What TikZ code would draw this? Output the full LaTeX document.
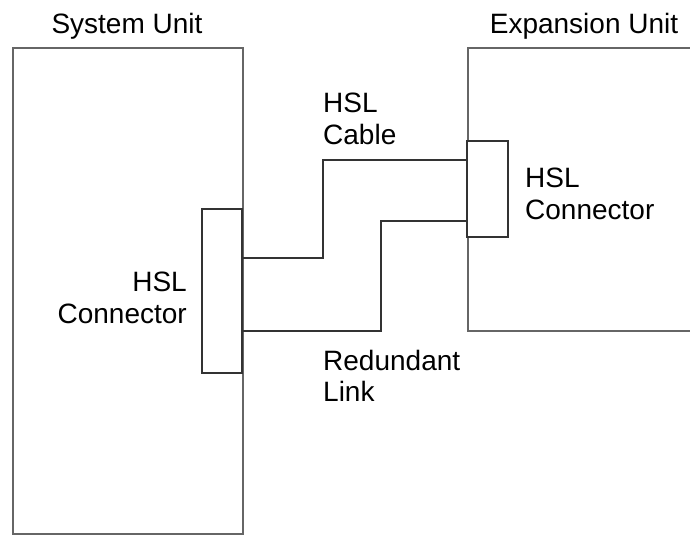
\documentclass[tikz,border=0pt]{standalone}
\usepackage{fontspec}
\setmainfont{Liberation Sans}
\begin{document}
\begin{tikzpicture}[x=1pt,y=-1pt,
  unitbox/.style={draw=black!60,line width=2pt},
  connbox/.style={draw=black!80,line width=1.4pt,rectangle,inner sep=0pt},
  cable/.style={draw=black!80,line width=1.4pt},
  lbl/.style={inner sep=0pt,font=\fontsize{28}{31.5}\selectfont}]
\useasboundingbox (0,0) rectangle (690,536);
% units
\node[unitbox,rectangle,inner sep=0pt,minimum width=230pt,minimum height=486pt] (sysunit) at (127.75,291) {};
\draw[unitbox] (700,48) -- (468,48) -- (468,331) -- (700,331);
\coordinate (expunit) at (468,48);
% titles
\node[lbl,anchor=base] (systitle) at (127,33) {System Unit};
\node[lbl,anchor=base] (exptitle) at (584,33) {Expansion Unit};
% connectors
\node[connbox,fill=white,minimum width=40pt,minimum height=164pt] (sysconn) at (222,291) {};
\node[connbox,fill=white,minimum width=41pt,minimum height=96pt] (expconn) at (487.5,189) {};
% cables
\coordinate (c1a) at (243,258);
\coordinate (c1b) at (323,258);
\coordinate (c1c) at (467,160);
\coordinate (c2a) at (243,331);
\coordinate (c2b) at (381,331);
\coordinate (c2c) at (467,221);
\draw[cable] (sysconn.east |- c1a) -- (c1b) |- (expconn.west |- c1c);
\draw[cable] (sysconn.east |- c2a) -- (c2b) |- (expconn.west |- c2c);
% labels
\node[lbl,anchor=north west,align=left] (cablelbl) at (323,93) {HSL\\Cable};
\node[lbl,anchor=north east,align=right] (sysconnlbl) at (187,272) {HSL\\Connector};
\node[lbl,anchor=north west,align=left] (redlbl) at (323,350) {Redundant\\Link};
\node[lbl,anchor=north west,align=left] (expconnlbl) at (525,168) {HSL\\Connector};
\end{tikzpicture}
\end{document}
